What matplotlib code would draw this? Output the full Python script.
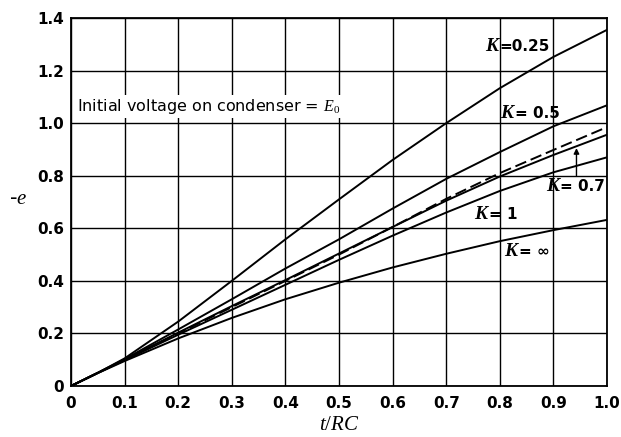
import matplotlib.pyplot as plt

plt.rcParams["mathtext.fontset"] = "custom"
plt.rcParams["mathtext.it"] = "Liberation Serif:italic"
plt.rcParams["mathtext.rm"] = "Liberation Serif"

# t/RC readings (extra point at 0.05 for the start of the curves)
t_rc = [0, 0.05, 0.1, 0.2, 0.3, 0.4, 0.5, 0.6, 0.7, 0.8, 0.9, 1.0]

e_k025 = [0, 0.05, 0.105, 0.245, 0.40, 0.558, 0.71, 0.86, 1.0, 1.133, 1.252, 1.355]
e_k05 = [0, 0.05, 0.102, 0.215, 0.33, 0.447, 0.558, 0.675, 0.788, 0.89, 0.988, 1.068]
e_k07 = [0, 0.05, 0.1, 0.203, 0.304, 0.403, 0.504, 0.605, 0.705, 0.797, 0.879, 0.956]
e_dashed = [0, 0.05, 0.1, 0.2, 0.3, 0.4, 0.5, 0.605, 0.712, 0.81, 0.898, 0.985]
e_k1 = [0, 0.05, 0.098, 0.195, 0.29, 0.385, 0.48, 0.572, 0.66, 0.742, 0.813, 0.87]
e_kinf = [0, 0.049, 0.095, 0.181, 0.259, 0.33, 0.393, 0.451, 0.503, 0.551, 0.593, 0.632]

x_ticks = [0, 0.1, 0.2, 0.3, 0.4, 0.5, 0.6, 0.7, 0.8, 0.9, 1.0]
x_labels = ["0", "0.1", "0.2", "0.3", "0.4", "0.5", "0.6", "0.7", "0.8", "0.9", "1.0"]
y_ticks = [0, 0.2, 0.4, 0.6, 0.8, 1.0, 1.2, 1.4]
y_labels = ["0", "0.2", "0.4", "0.6", "0.8", "1.0", "1.2", "1.4"]

fig = plt.figure(figsize=(6.21, 4.37), dpi=100)
ax = fig.add_axes([0.1143, 0.1167, 0.8632, 0.8421])

lw = 1.4
for vals in [e_k025, e_k05, e_k07, e_k1, e_kinf]:
    ax.plot(t_rc, vals, color="black", lw=lw)
ax.plot(t_rc, e_dashed, color="black", lw=lw, dashes=(6, 2.5))

ax.set_xlim(0, 1.0)
ax.set_ylim(0, 1.4)
ax.set_xticks(x_ticks)
ax.set_xticklabels(x_labels, fontsize=11, fontweight="bold")
ax.set_yticks(y_ticks)
ax.set_yticklabels(y_labels, fontsize=11, fontweight="bold")
ax.tick_params(axis="x", length=0, pad=7)
ax.tick_params(axis="y", length=0, pad=5)
ax.grid(True, color="black", lw=1.0)
ax.set_axisbelow(True)
for s in ax.spines.values():
    s.set_linewidth(1.3)


def k_label(x, y, rest):
    # italic serif K, then the bold sans value
    ax.text(x, y, "K", fontsize=14, family="Liberation Serif", style="italic",
            fontweight="bold", ha="right", va="baseline")
    ax.text(x + 0.003, y, rest, fontsize=11, fontweight="bold", ha="left",
            va="baseline")


k_label(0.797, 1.275, "=0.25")
k_label(0.825, 1.018, "= 0.5")
k_label(0.91, 0.74, "= 0.7")
k_label(0.776, 0.636, "= 1")
k_label(0.832, 0.496, "= \u221e")

ax.annotate("", xy=(0.943, 0.905), xytext=(0.943, 0.80),
            arrowprops=dict(arrowstyle="-|>", color="black", lw=1.0,
                            mutation_scale=8, shrinkA=0, shrinkB=0))

ax.text(0.012, 1.062, "Initial voltage on condenser = $E_0$", fontsize=11.5,
        va="center", ha="left",
        bbox=dict(facecolor="white", edgecolor="none", pad=1.5))

ax.set_xlabel("$t/RC$", fontsize=15, labelpad=2)
fig.text(0.03, 0.547, "-$e$", fontsize=15, ha="center", va="center")

fig.savefig("out.png", dpi=100)
